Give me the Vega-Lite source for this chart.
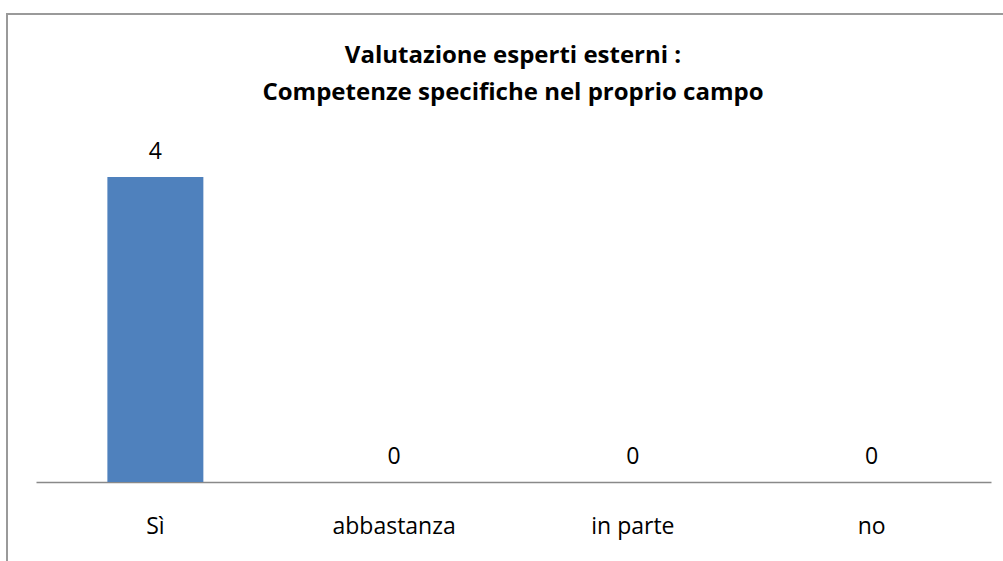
{
  "$schema": "https://vega.github.io/schema/vega-lite/v6.json",
  "autosize": {"type": "none"},
  "width": 1016,
  "height": 567,
  "padding": {"left": 7, "top": 14, "right": -20, "bottom": -20},
  "background": "white",
  "view": {"stroke": "#9a9a9a", "strokeWidth": 2},
  "title": {
    "text": ["Valutazione esperti esterni :", "Competenze specifiche nel proprio campo"],
    "anchor": "middle",
    "frame": "group",
    "font": "Open Sans",
    "fontSize": 24,
    "fontWeight": "bold",
    "color": "#000000",
    "lineHeight": 37,
    "offset": -91,
    "dx": -2
  },
  "data": {
    "values": [
      {"risposta": "Sì", "valore": 4},
      {"risposta": "abbastanza", "valore": 0},
      {"risposta": "in parte", "valore": 0},
      {"risposta": "no", "valore": 0}
    ]
  },
  "encoding": {
    "x": {
      "field": "risposta",
      "type": "nominal",
      "sort": null,
      "scale": {"range": [29, 984], "paddingInner": 0.598, "paddingOuter": 0.299},
      "axis": {
        "title": null,
        "orient": "bottom",
        "offset": -99,
        "domainColor": "#898989",
        "domainWidth": 1.5,
        "ticks": false,
        "tickSize": 0,
        "labelAngle": 0,
        "labelFont": "Open Sans",
        "labelFontSize": 23,
        "labelColor": "#000000",
        "labelBaseline": "alphabetic",
        "labelPadding": 51
      }
    },
    "y": {
      "field": "valore",
      "type": "quantitative",
      "scale": {"domain": [0, 4.5], "range": [468, 125], "nice": false},
      "axis": null
    }
  },
  "layer": [
    {"mark": {"type": "bar", "color": "#4f81bd"}},
    {
      "mark": {"type": "text", "baseline": "alphabetic", "dy": -18, "font": "Open Sans", "fontSize": 23, "color": "#000000"},
      "encoding": {"text": {"field": "valore", "type": "quantitative"}}
    }
  ]
}
